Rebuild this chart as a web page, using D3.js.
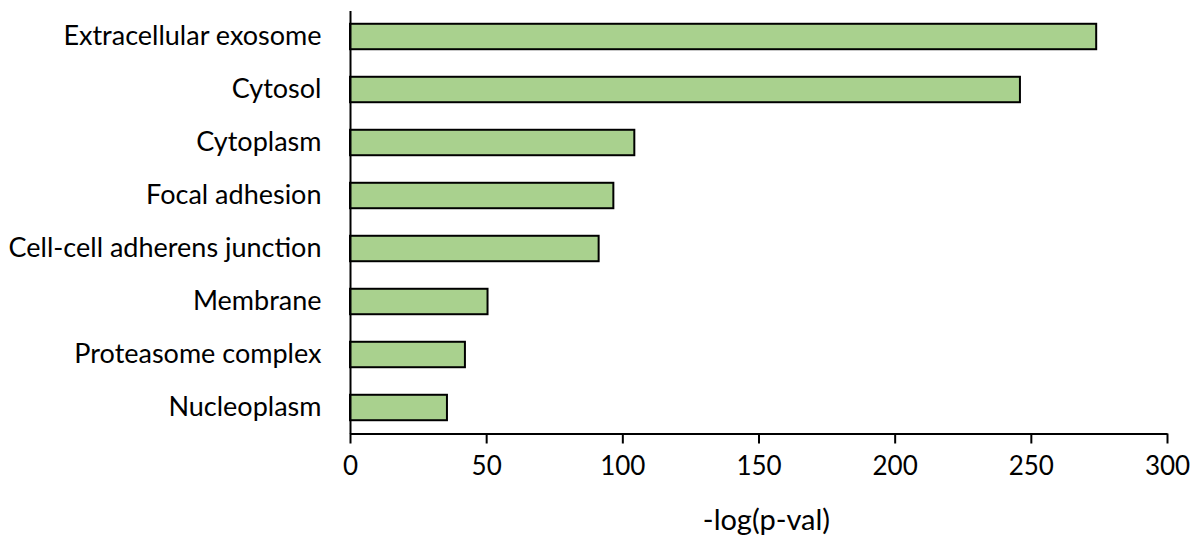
<!DOCTYPE html>
<html><head><meta charset="utf-8">
<script src="https://cdn.jsdelivr.net/npm/d3@7"></script>
<style>body{margin:0;background:#fff}svg{display:block}text{font-family:Lato,"Open Sans",sans-serif;fill:#000}</style>
</head><body>
<svg id="c" width="1203" height="536"></svg>
<script>
const categories = ["Extracellular exosome","Cytosol","Cytoplasm","Focal adhesion","Cell-cell adherens junction","Membrane","Proteasome complex","Nucleoplasm"];
const values = [274, 246, 104.4, 96.7, 91.3, 50.5, 42.2, 35.6];
const xTicks = [0,50,100,150,200,250,300];
const xTitle = "-log(p-val)";

const svg = d3.select("#c");
const x = d3.scaleLinear().domain([0,300]).range([350,1167]);
const y = d3.scaleBand().domain(categories).range([10,434]).paddingInner(0.52).paddingOuter(0.26);

svg.selectAll("rect.bar").data(categories).join("rect")
  .attr("class","bar")
  .attr("x", x(0))
  .attr("y", d=>y(d))
  .attr("width", (d,i)=>x(values[i])-x(0))
  .attr("height", y.bandwidth())
  .attr("fill","#a9d18e").attr("stroke","#000").attr("stroke-width",2);

const xAxis = svg.append("g").attr("transform","translate(0,433.5)")
  .call(d3.axisBottom(x).tickValues(xTicks).tickSize(10).tickSizeOuter(0).tickPadding(13));
xAxis.select(".domain").attr("stroke","#000").attr("stroke-width",2);
xAxis.selectAll(".tick line").attr("stroke","#000").attr("stroke-width",2);
xAxis.selectAll("text").style("font-size","26px").attr("fill","#000");

const yAxis = svg.append("g").attr("transform","translate(350.5,0)")
  .call(d3.axisLeft(y).tickSize(0).tickPadding(29));
yAxis.select(".domain").attr("d","M0,11V434").attr("stroke","#000").attr("stroke-width",2);
yAxis.selectAll("text").style("font-size","27px").attr("fill","#000");

svg.append("text").attr("x", x(150)+8).attr("y", 530).attr("text-anchor","middle")
  .style("font-size","29px").text(xTitle);
</script>
</body></html>
